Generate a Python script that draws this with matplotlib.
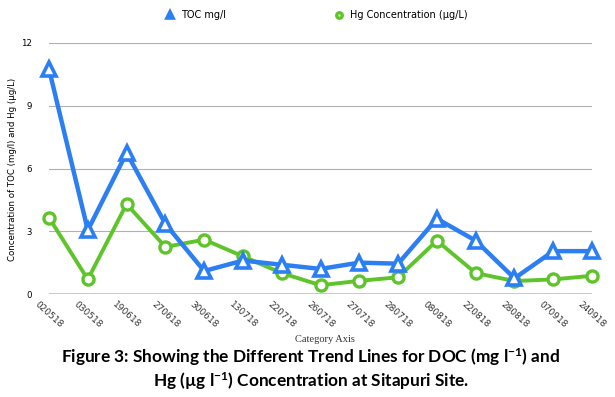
import matplotlib.pyplot as plt

dates = ["020518", "030518", "190618", "270618", "300618", "130718", "220718",
         "260718", "270718", "280718", "080818", "220818", "280818", "070918", "240918"]
toc = [10.75, 3.05, 6.75, 3.35, 1.1, 1.6, 1.4, 1.2, 1.5, 1.45, 3.6, 2.55, 0.75, 2.05, 2.05]
hg = [3.65, 0.7, 4.3, 2.25, 2.6, 1.8, 1.0, 0.42, 0.63, 0.8, 2.55, 1.0, 0.62, 0.7, 0.87]
yticks = [0, 3, 6, 9, 12]

blue = "#2b7ff2"
green = "#5ec42a"

plt.rcParams["mathtext.fontset"] = "custom"
plt.rcParams["mathtext.rm"] = "Lato:bold"
plt.rcParams["mathtext.it"] = "Lato:bold"
plt.rcParams["mathtext.bf"] = "Lato:bold"

fig = plt.figure(figsize=(6.15, 3.97), dpi=100)
fig.patch.set_facecolor("white")
ax = fig.add_axes([0.0797, 0.2594, 0.883, 0.6323])

x = range(len(dates))
ax.plot(x, hg, color=green, lw=2.8, marker="o", ms=8, mfc="white", mec=green,
        mew=2.4, clip_on=False, zorder=3, label="Hg Concentration (µg/L)")
ax.plot(x, toc, color=blue, lw=3.2, marker="^", ms=10, mfc="white", mec=blue,
        mew=2.6, clip_on=False, zorder=4, label="TOC mg/l")

ax.set_xlim(0, len(dates) - 1)
ax.set_ylim(0, 12)
ax.set_yticks(yticks)
ax.set_yticklabels([str(v) for v in yticks], fontsize=6.2)
ax.yaxis.grid(True, color="#b0b0b0", lw=0.8)
ax.set_axisbelow(True)
ax.axhline(0, color="black", lw=1.0, zorder=2)
for s in ax.spines.values():
    s.set_visible(False)
ax.tick_params(axis="both", length=0)
ax.tick_params(axis="y", pad=12)

ax.set_xticks(list(x))
ax.set_xticklabels(dates, rotation=-42, ha="center", va="top", fontsize=6.5,
                   color="#333333")
ax.tick_params(axis="x", pad=4)

fig.text(13 / 615, 1 - 169 / 397, "Concentration of TOC (mg/l) and Hg (µg/L)",
         fontsize=6.2, rotation=90, ha="center", va="center")

fig.text(325 / 615, 1 - 339 / 397, "Category Axis", family="Liberation Serif",
         fontsize=7.5, ha="center", va="center", color="#333333")

# legend above the plot, triangle first
handles, labels = ax.get_legend_handles_labels()
leg = ax.legend(handles[::-1], labels[::-1], loc="center", ncol=2,
                bbox_to_anchor=(0.494, 1.11), frameon=False, fontsize=7,
                columnspacing=11.3, handlelength=0.6, handletextpad=0.8,
                markerscale=0.5)
for h in leg.legend_handles:
    h.set_linestyle("none")

fig.text(0.505, 1 - 363 / 397, r"Figure 3: Showing the Different Trend Lines for DOC (mg l$^{-1}$) and",
         family="Lato", weight="bold", fontsize=12.4, ha="center", va="baseline")
fig.text(0.505, 1 - 387 / 397, r"Hg (µg l$^{-1}$) Concentration at Sitapuri Site.",
         family="Lato", weight="bold", fontsize=12.4, ha="center", va="baseline")

fig.savefig("out.png", dpi=100)
